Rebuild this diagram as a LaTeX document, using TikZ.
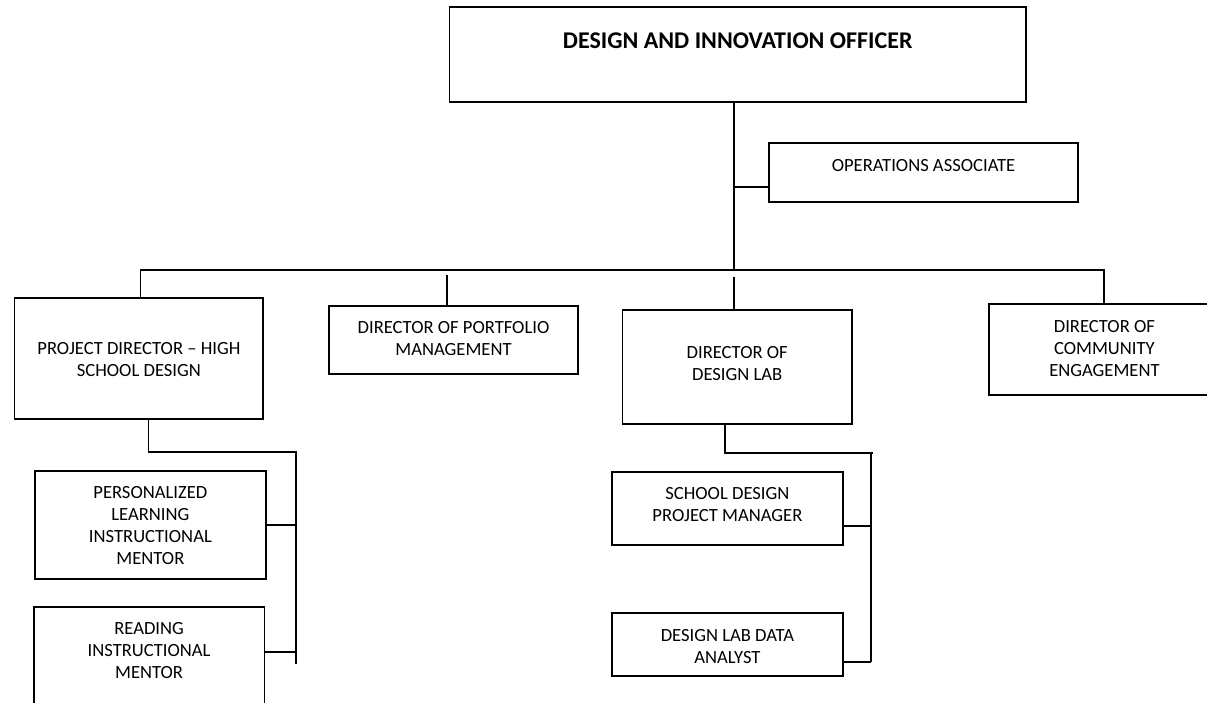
\documentclass[tikz,border=0pt]{standalone}
\usepackage{fontspec}
\setmainfont{Carlito}
\usetikzlibrary{fit}
\begin{document}
\begin{tikzpicture}[x=1pt,y=-1pt,
  box/.style={draw, line width=1.7pt, inner sep=0pt},
  conn/.style={line width=1.8pt},
  txt/.style={inner sep=0pt, align=center, anchor=north, font=\fontsize{18.6}{22}\selectfont},
  ttl/.style={inner sep=0pt, align=center, anchor=north, font=\fontsize{24}{28}\selectfont\bfseries}]
\useasboundingbox (0,0) rectangle (1207,702);
\clip (0,0) rectangle (1207,702);
% boxes
\node[box, fit={(449.5,6.7) (1026,101.7)},
  label={[ttl, yshift=-27pt]north:DESIGN AND INNOVATION OFFICER}] (top) {};
\node[box, fit={(769,143.3) (1078,202.3)},
  label={[txt, yshift=-16.4pt]north:OPERATIONS ASSOCIATE}] (ops) {};
\node[box, fit={(14.5,297.7) (263.3,419)},
  label={[txt, yshift=-45.6pt]north:PROJECT DIRECTOR – HIGH\\SCHOOL DESIGN}] (pd) {};
\node[box, fit={(329,305.7) (578,374)},
  label={[txt, yshift=-16.6pt]north:DIRECTOR OF PORTFOLIO\\MANAGEMENT}] (port) {};
\node[box, fit={(622.4,310) (852,424)},
  label={[txt, yshift=-37.3pt]north:DIRECTOR OF\\DESIGN LAB}] (dl) {};
\node[box, fit={(988.8,304) (1220,395)},
  label={[txt, yshift=-16.7pt]north:DIRECTOR OF\\COMMUNITY\\ENGAGEMENT}] (comm) {};
\node[box, fit={(34.8,471) (266,579.3)},
  label={[txt, yshift=-16.3pt]north:PERSONALIZED\\LEARNING\\INSTRUCTIONAL\\MENTOR}] (plim) {};
\node[box, fit={(33.7,607) (264.5,720)},
  label={[txt, yshift=-16.3pt]north:READING\\INSTRUCTIONAL\\MENTOR}] (read) {};
\node[box, fit={(612,471.7) (842.8,545)},
  label={[txt, yshift=-16.6pt]north:SCHOOL DESIGN\\PROJECT MANAGER}] (sdpm) {};
\node[box, fit={(612,612.7) (842.8,676)},
  label={[txt, yshift=-17pt]north:DESIGN LAB DATA\\ANALYST}] (dlda) {};
% junction coordinates
\coordinate (spine) at (734,270);
\coordinate (opsj) at (734,186.7);
\coordinate (busL) at (140.5,270);
\coordinate (busR) at (1104,270);
\coordinate (portd) at (447,275);
\coordinate (dld) at (734,276.5);
\coordinate (pdj) at (148.5,452.3);
\coordinate (pdr) at (295.8,452.3);
\coordinate (dlj) at (725.2,452.7);
\coordinate (dlr) at (871.2,452.7);
% connectors
\draw[conn] (top.south -| spine) -- (spine);
\draw[conn] (opsj) -- (opsj -| ops.west);
\draw[conn] (busL |- pd.north) -- (busL) -- (busR) -- (busR |- comm.north);
\draw[conn] (portd) -- (portd |- port.north);
\draw[conn] (dld) -- (dld |- dl.north);
\draw[conn] (pdj |- pd.south) -- (pdj) -- (pdr) -- (pdr |- read.east);
\draw[conn] (plim.east) -- (plim.east -| pdr);
\draw[conn] (read.east |- 0,651.7) -- (pdr |- 0,651.7);
\draw[conn] (dlj |- dl.south) -- (dlj) -- ([xshift=2pt]dlr);
\draw[conn] (dlr) -- (dlr |- 0,661.7);
\draw[conn] (sdpm.east |- 0,525.7) -- (dlr |- 0,525.7);
\draw[conn] (dlda.east |- 0,661.7) -- (dlr |- 0,661.7);
\end{tikzpicture}
\end{document}
